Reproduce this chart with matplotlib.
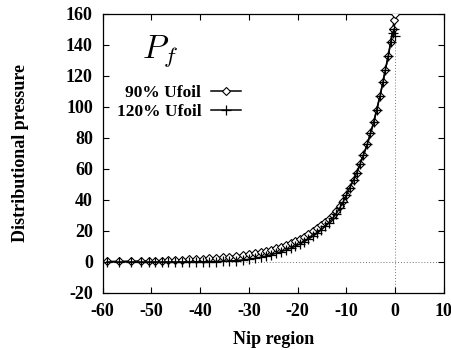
import matplotlib
matplotlib.use("Agg")
import matplotlib.pyplot as plt

plt.rcParams['font.family'] = ['Liberation Serif', 'DejaVu Serif']
plt.rcParams['font.weight'] = 'bold'
plt.rcParams['mathtext.fontset'] = 'cm'
plt.rcParams['axes.unicode_minus'] = False

# Data
x90 = [-59.1, -56.6, -54.2, -52.2, -50.5, -49.2, -47.9, -46.5, -45.1, -43.7,
       -42.3, -40.9, -39.5, -38.1, -36.7, -35.4, -34.0, -32.6, -31.3, -30.0,
       -28.8, -27.6, -26.5, -25.4, -24.4, -23.4, -22.4, -21.4, -20.5, -19.6,
       -18.7, -17.8, -16.9, -16.0, -15.2, -14.4, -13.6, -12.8, -12.1, -11.4,
       -10.7, -10.0, -9.3, -8.5, -7.9, -7.2, -6.5, -5.7, -5.05, -4.4,
       -3.8, -3.1, -2.5, -2.0, -1.4, -0.9, -0.5, -0.2, 0.0]
y90 = [0.3, 0.4, 0.5, 0.6, 0.7, 0.8, 0.9, 1.05, 1.2, 1.4,
       1.6, 1.8, 2.0, 2.3, 2.6, 3.0, 3.4, 3.9, 4.4, 5.0,
       5.6, 6.3, 7.1, 8.0, 8.9, 9.9, 11.0, 12.2, 13.5, 14.9,
       16.4, 18.0, 19.8, 21.7, 23.6, 25.7, 28.0, 30.5, 33.0, 36.0,
       39.6, 43.5, 48, 53, 57.5, 63, 69, 76, 83, 90,
       98, 107, 116, 124, 133, 142, 150, 156, 160]

x120 = [-59.1, -56.6, -54.2, -52.2, -50.5, -49.2, -47.9, -46.5, -45.1, -43.7,
        -42.3, -40.9, -39.5, -38.1, -36.7, -35.4, -34.0, -32.6, -31.3, -30.0,
        -28.8, -27.6, -26.5, -25.4, -24.4, -23.4, -22.4, -21.4, -20.5, -19.6,
        -18.7, -17.8, -16.9, -16.0, -15.2, -14.4, -13.6, -12.8, -12.1, -11.4,
        -10.7, -10.0, -9.3, -8.5, -7.9, -7.2, -6.5, -5.7, -5.05, -4.4,
        -3.8, -3.1, -2.5, -2.0, -1.4, -0.9, -0.5, -0.2, 0.0]
y120 = [0.0, 0.0, 0.0, 0.0, 0.0, 0.0, 0.0, 0.0, 0.0, 0.0,
        0.0, 0.05, 0.1, 0.15, 0.25, 0.4, 0.6, 0.9, 1.3, 1.7,
        2.3, 3.0, 3.8, 4.7, 5.6, 6.6, 7.7, 8.9, 10.1, 11.5,
        13.0, 14.7, 16.5, 18.5, 20.6, 22.9, 25.4, 28.2, 31.2, 34.6,
        38.5, 43.0, 48, 53, 57.5, 63, 69, 76, 83, 90,
        98, 107, 116, 124, 133, 142, 148, 150, 146]

labels = ['90% Ufoil', '120% Ufoil']
xticks = [-60, -50, -40, -30, -20, -10, 0, 10]
yticks = [-20, 0, 20, 40, 60, 80, 100, 120, 140, 160]

fig = plt.figure(figsize=(4.52, 3.5), dpi=100)
ax = fig.add_axes([0.227, 0.163, 0.755, 0.797])

ax.axhline(0, color='#777777', lw=0.7, ls=(0, (1, 2)), zorder=1)
ax.axvline(0, color='#777777', lw=0.7, ls=(0, (1, 2)), zorder=1)

ax.plot(x90, y90, color='black', lw=1.1, marker='D', markersize=4.2,
        mfc='white', mec='black', mew=0.8, label=labels[0], zorder=3)
ax.plot(x120, y120, color='black', lw=1.1, marker='+', markersize=7,
        mew=0.9, label=labels[1], zorder=3)

ax.set_xlim(-60, 10)
ax.set_ylim(-20, 160)
ax.set_xticks(xticks)
ax.set_yticks(yticks)
ax.tick_params(direction='in', top=True, right=True, length=4, width=0.8,
               labelsize=13, pad=7)
for lab in ax.get_xticklabels() + ax.get_yticklabels():
    lab.set_fontweight('bold')
for s in ax.spines.values():
    s.set_linewidth(0.9)

ax.set_xlabel('Nip region', fontsize=13, fontweight='bold', labelpad=8)
ax.set_ylabel('Distributional pressure', fontsize=13, fontweight='bold', labelpad=27)

ax.text(-48.2, 136, r'$P_f$', fontsize=24, ha='center', va='center')

leg = ax.legend(loc='upper right', bbox_to_anchor=(0.442, 0.788), frameon=False,
                markerfirst=False, numpoints=1, handlelength=1.75,
                handletextpad=0.55, labelspacing=0.12, fontsize=12.5,
                borderpad=0.2)
for t in leg.get_texts():
    t.set_fontweight('bold')

fig.savefig('out.png', dpi=100)
